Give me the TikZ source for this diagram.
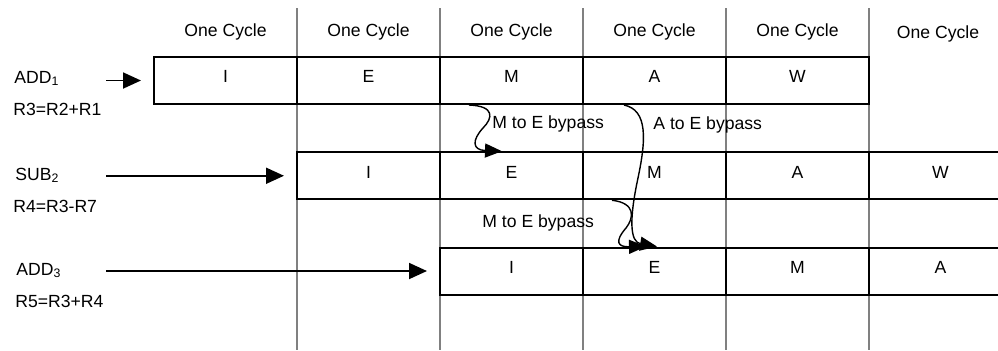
\documentclass[tikz,border=0pt]{standalone}
\usepackage{fontspec}
\setmainfont{Liberation Sans}
\usetikzlibrary{arrows.meta}
\begin{document}
\begin{tikzpicture}[x=0.5pt,y=-0.5pt,font=\fontsize{8.8}{10}\selectfont,
    cell/.style={draw,line width=1pt,minimum width=71.5pt,minimum height=23.5pt,inner sep=0pt,text height=6.3pt,text depth=4pt},
    grid/.style={draw=gray,line width=0.6pt},
    feed/.style={-{Triangle[length=9pt,width=8pt]},line width=0.9pt,shorten >=6pt},
    bypass/.style={-{Triangle[length=8.5pt,width=7pt]},line width=0.7pt},
    tag/.style={anchor=base west,inner sep=0pt}]

      \useasboundingbox (0,0) rectangle (998,350);

      \foreach \x in {297,440,583,726,869} {
        \draw[grid] (\x,8) -- (\x,350);
      }

      \foreach \i in {0,...,4} {
        \node (cyc\i) at ({225.5+143*\i},36.5) [anchor=base] {One Cycle};
      }
      \node (cyc5) at (938,38.5) [anchor=base] {One Cycle};

      \foreach \s [count=\i] in {I,E,M,A,W} {
        \node (r1s\i) at ({82.5+143*\i},80.5) [cell] {\s};
        \node (r2s\i) at ({225.5+143*\i},175.75) [cell] {\s};
      }
      \foreach \s [count=\i] in {I,E,M,A} {
        \node (r3s\i) at ({368.5+143*\i},271) [cell] {\s};
      }

      \node (add1) at (14,83) [tag] {ADD\textsubscript{1}};
      \node (op1) at (13,115) [tag] {R3=R2+R1};
      \node (sub2) at (15,180) [tag] {SUB\textsubscript{2}};
      \node (op2) at (13,212) [tag] {R4=R3-R7};
      \node (add3) at (16,275) [tag] {ADD\textsubscript{3}};
      \node (op3) at (15,307) [tag] {R5=R3+R4};

      \coordinate (in1) at (106,80.5);
      \coordinate (in2) at (106,175.75);
      \coordinate (in3) at (106,271);
      \draw[feed] (in1) -- (r1s1.west);
      \draw[feed] (in2) -- (r2s1.west);
      \draw[feed] (in3) -- (r3s1.west);

      \node (mb1) at (492,128) [tag] {M to E bypass};
      \node (ab) at (653,129) [tag] {A to E bypass};
      \node (mb2) at (482,227) [tag] {M to E bypass};

      \draw[bypass] ([xshift=15pt]r1s3.south west) .. controls (495,106) and (493,118) .. (483,128)
        .. controls (472,140) and (472,150) .. ([xshift=31.5pt]r2s2.north west);
      \draw[bypass] ([xshift=21pt]r1s4.south west) .. controls (648,110) and (646,140) .. (638,178)
        .. controls (629,220) and (630,242) .. ([xshift=37.5pt]r3s2.north west);
      \draw[bypass] ([xshift=15pt]r2s3.south west) .. controls (636,203) and (634,218) .. (626,228)
        .. controls (614,242) and (618,247) .. ([xshift=32pt]r3s2.north west);
    \end{tikzpicture}
\end{document}
